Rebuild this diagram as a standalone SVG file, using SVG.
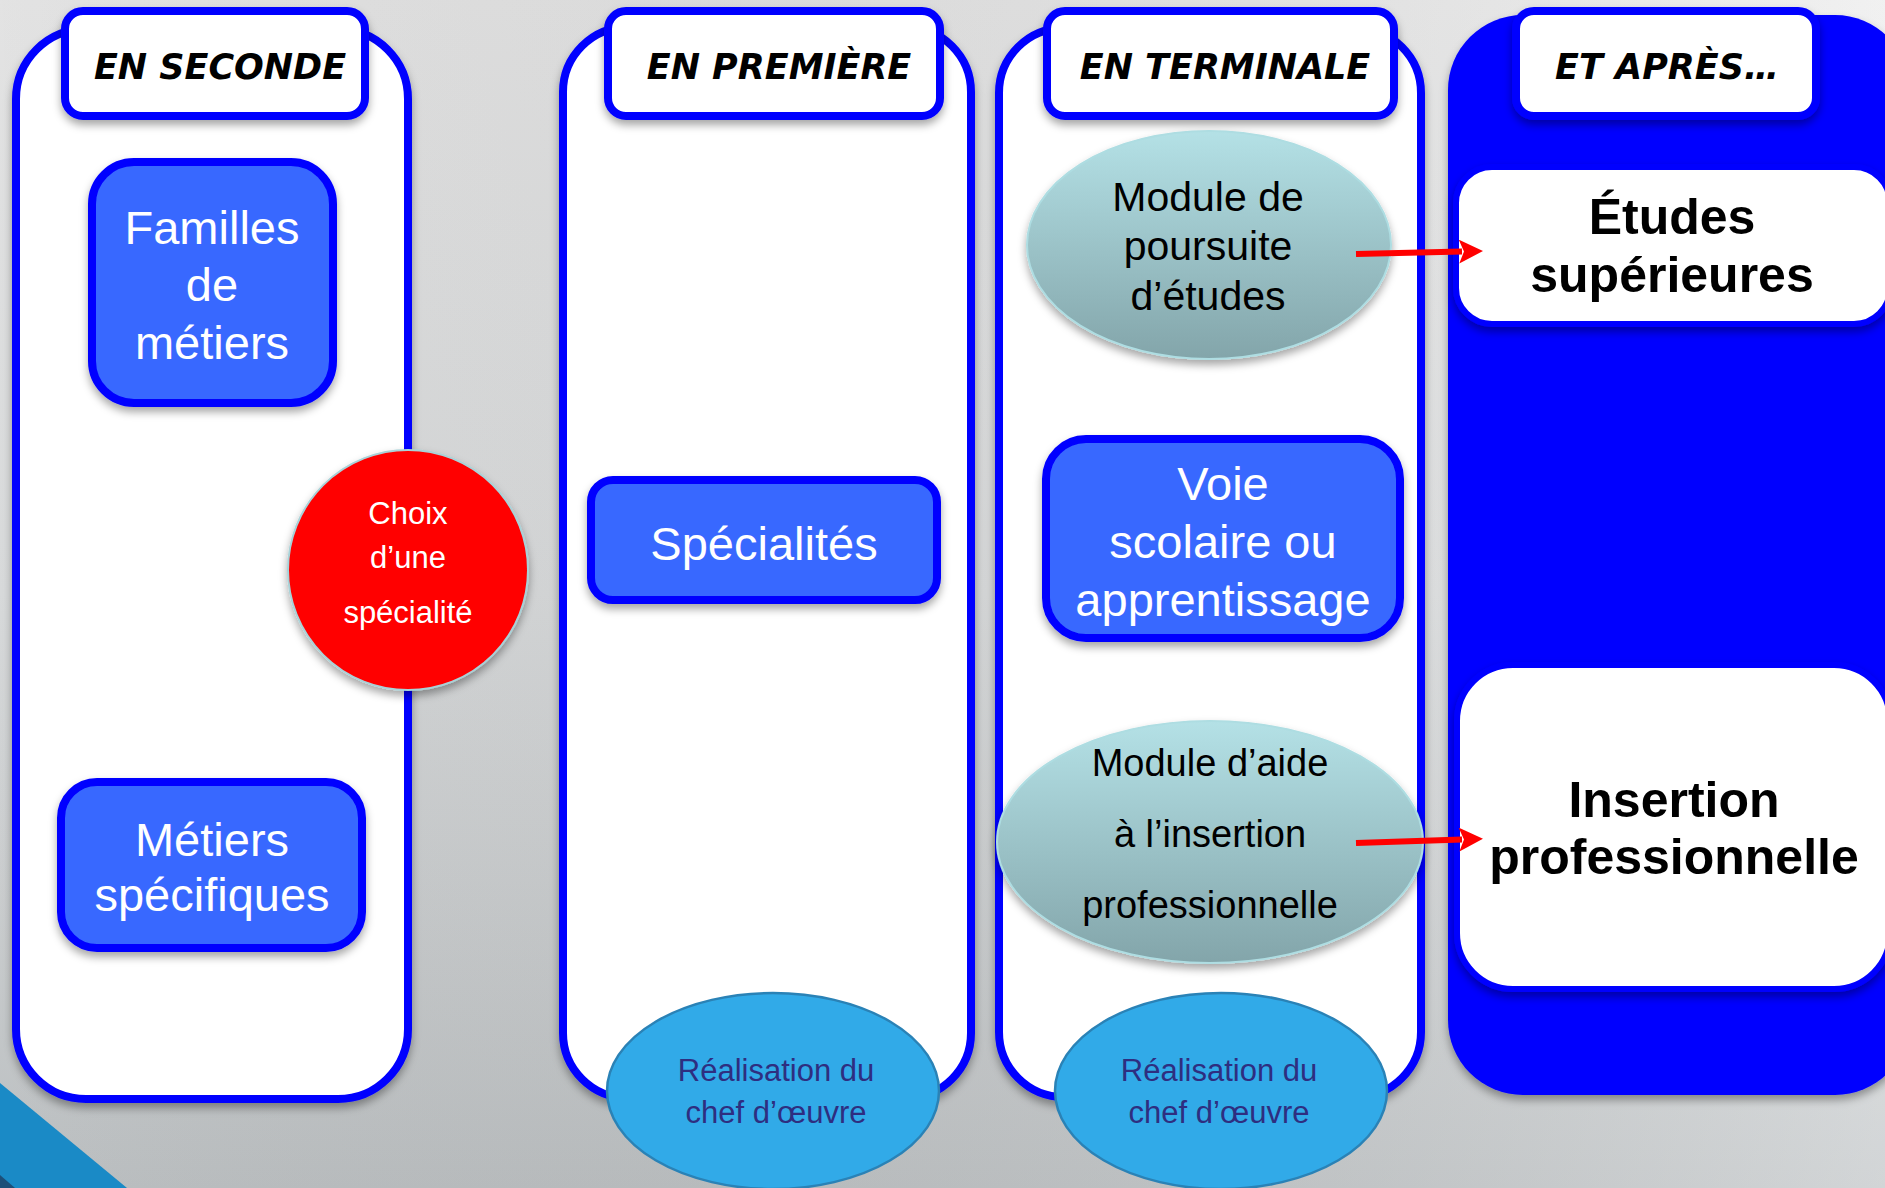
<svg xmlns="http://www.w3.org/2000/svg" width="1885" height="1188" viewBox="0 0 1885 1188">
<defs>
<linearGradient id="bg" x1="0" y1="0" x2="0" y2="1">
<stop offset="0" stop-color="#ececec"/>
<stop offset="0.5" stop-color="#e0e2e3"/>
<stop offset="1" stop-color="#c3c7c9"/>
</linearGradient>
<linearGradient id="bgh" x1="0" y1="0" x2="1" y2="0">
<stop offset="0" stop-color="#000" stop-opacity="0.04"/>
<stop offset="1" stop-color="#fff" stop-opacity="0.25"/>
</linearGradient>
<linearGradient id="mod" x1="0" y1="0" x2="0" y2="1">
<stop offset="0" stop-color="#b4e1e6"/>
<stop offset="1" stop-color="#83a5aa"/>
</linearGradient>
<filter id="sh" x="-10%" y="-10%" width="120%" height="130%">
<feDropShadow dx="0" dy="5" stdDeviation="4" flood-color="#000" flood-opacity="0.35"/>
</filter>
<marker id="ah" markerUnits="userSpaceOnUse" viewBox="0 0 24 24" markerWidth="24" markerHeight="24" refX="3" refY="12" orient="auto">
<path d="M0,0 L24,12 L0,24 L5,12 Z" fill="#ff0000"/>
</marker>
<style>
.col{fill:#ffffff;stroke:#0000ff;stroke-width:8}
.hdr{fill:#ffffff;stroke:#0000ff;stroke-width:8}
.bbox{fill:#3867ff;stroke:#0000ff;stroke-width:8}
.ht{font-family:"DejaVu Sans","Liberation Sans",sans-serif;font-weight:bold;font-style:italic;font-size:35px;fill:#000;text-anchor:middle}
.bt{font-family:"Liberation Sans",Arial,sans-serif;font-size:47px;fill:#fff;text-anchor:middle}
.mt{font-family:"Liberation Sans",Arial,sans-serif;fill:#000;text-anchor:middle}
.ct{font-family:"Liberation Sans",Arial,sans-serif;font-size:31px;fill:#2e2e80;text-anchor:middle}
.wt{font-family:"Liberation Sans",Arial,sans-serif;font-weight:bold;font-size:50px;fill:#000;text-anchor:middle}
.chef{fill:#31aae8;stroke:#2a82b6;stroke-width:2.5}
.arr{stroke:#ff0000;stroke-width:6;fill:none}
</style>
</defs>

<g id="background">
<rect x="0" y="0" width="1885" height="1188" fill="url(#bg)"/>
<rect x="0" y="0" width="1885" height="1188" fill="url(#bgh)"/>
<polygon points="0,1083 127,1188 0,1188" fill="#1a8ac6"/>
<polygon points="0,1175 15,1188 0,1188" fill="#1d4f78"/>
</g>

<g id="col-seconde">
<rect class="col" x="16" y="29" width="392" height="1070" rx="70" filter="url(#sh)"/>
</g>
<g id="col-premiere">
<rect class="col" x="563" y="27" width="408" height="1071" rx="65" filter="url(#sh)"/>
</g>
<g id="col-terminale">
<rect class="col" x="999" y="28" width="422" height="1069" rx="65" filter="url(#sh)"/>
</g>
<g id="col-apres">
<rect x="1448" y="15" width="462" height="1080" rx="75" fill="#0000ff" filter="url(#sh)"/>
</g>

<g id="hdr-seconde">
<rect class="hdr" x="65" y="11" width="300" height="105" rx="18" filter="url(#sh)"/>
<text class="ht" x="220" y="79">EN SECONDE</text>
</g>
<g id="hdr-premiere">
<rect class="hdr" x="608" y="11" width="332" height="105" rx="18" filter="url(#sh)"/>
<text class="ht" x="779" y="79">EN PREMIÈRE</text>
</g>
<g id="hdr-terminale">
<rect class="hdr" x="1047" y="11" width="347" height="105" rx="18" filter="url(#sh)"/>
<text class="ht" x="1225" y="79">EN TERMINALE</text>
</g>
<g id="hdr-apres">
<rect class="hdr" x="1516" y="11" width="300" height="105" rx="18" filter="url(#sh)"/>
<text class="ht" x="1667" y="79">ET APRÈS…</text>
</g>

<g id="familles">
<rect class="bbox" x="92" y="162" width="241" height="241" rx="42" filter="url(#sh)"/>
<text class="bt" x="212" y="244">Familles</text>
<text class="bt" x="212" y="301">de</text>
<text class="bt" x="212" y="359">métiers</text>
</g>

<g id="metiers-specifiques">
<rect class="bbox" x="61" y="782" width="301" height="166" rx="36" filter="url(#sh)"/>
<text class="bt" x="212" y="856">Métiers</text>
<text class="bt" x="212" y="911">spécifiques</text>
</g>

<g id="choix">
<circle cx="408" cy="570" r="120" fill="#ff0000" stroke="#a9d2d8" stroke-width="2" filter="url(#sh)"/>
<text class="bt" style="font-size:31px" x="408" y="524">Choix</text>
<text class="bt" style="font-size:31px" x="408" y="568">d’une</text>
<text class="bt" style="font-size:31px" x="408" y="623">spécialité</text>
</g>

<g id="specialites">
<rect class="bbox" x="591" y="480" width="346" height="120" rx="22" filter="url(#sh)"/>
<text class="bt" x="764" y="560">Spécialités</text>
</g>

<g id="module-poursuite">
<ellipse cx="1209" cy="245" rx="182" ry="114" fill="url(#mod)" stroke="#aedde2" stroke-width="2" filter="url(#sh)"/>
<text class="mt" style="font-size:41px" x="1208" y="211">Module de</text>
<text class="mt" style="font-size:41px" x="1208" y="260">poursuite</text>
<text class="mt" style="font-size:41px" x="1208" y="310">d’études</text>
</g>

<g id="voie">
<rect class="bbox" x="1046" y="439" width="354" height="199" rx="40" filter="url(#sh)"/>
<text class="bt" x="1223" y="500">Voie</text>
<text class="bt" x="1223" y="558">scolaire ou</text>
<text class="bt" x="1223" y="616">apprentissage</text>
</g>

<g id="module-insertion">
<ellipse cx="1210" cy="842" rx="213" ry="121" fill="url(#mod)" stroke="#aedde2" stroke-width="2" filter="url(#sh)"/>
<text class="mt" style="font-size:38px" x="1210" y="776">Module d’aide</text>
<text class="mt" style="font-size:38px" x="1210" y="847">à l’insertion</text>
<text class="mt" style="font-size:38px" x="1210" y="918">professionnelle</text>
</g>

<g id="etudes-superieures">
<rect x="1456" y="167" width="434" height="157" rx="36" fill="#ffffff" stroke="#0000ff" stroke-width="6" filter="url(#sh)"/>
<text class="wt" x="1672" y="234">Études</text>
<text class="wt" x="1672" y="292">supérieures</text>
</g>

<g id="insertion-professionnelle">
<rect x="1457" y="665" width="433" height="324" rx="56" fill="#ffffff" stroke="#0000ff" stroke-width="6" filter="url(#sh)"/>
<text class="wt" x="1674" y="817">Insertion</text>
<text class="wt" x="1674" y="874">professionnelle</text>
</g>

<g id="chef-premiere">
<ellipse class="chef" cx="773" cy="1091" rx="166" ry="98"/>
<text class="ct" x="776" y="1081">Réalisation du</text>
<text class="ct" x="776" y="1123">chef d’œuvre</text>
</g>

<g id="chef-terminale">
<ellipse class="chef" cx="1221" cy="1091" rx="166" ry="98"/>
<text class="ct" x="1219" y="1081">Réalisation du</text>
<text class="ct" x="1219" y="1123">chef d’œuvre</text>
</g>

<g id="connectors">
<line class="arr" x1="1356" y1="254" x2="1462" y2="251.5" marker-end="url(#ah)"/>
<line class="arr" x1="1356" y1="843" x2="1462" y2="839.5" marker-end="url(#ah)"/>
</g>
</svg>
